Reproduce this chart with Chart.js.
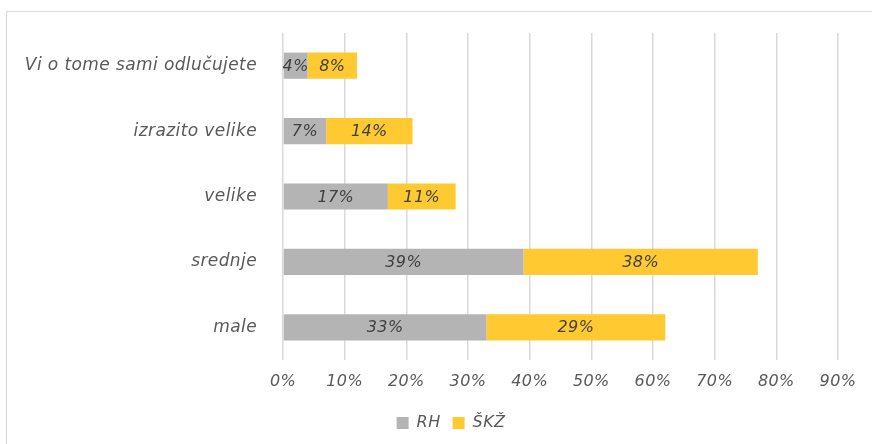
<!DOCTYPE html>
<html lang="hr">
<head>
    <meta charset="UTF-8">
    <title>Veličina odluka</title>
    <script src="https://cdn.jsdelivr.net/npm/chart.js"></script>
    <style>
        html, body {
            margin: 0;
            padding: 0;
            background: #fff;
            overflow: hidden;
        }
        .frame {
            position: absolute;
            left: 6px;
            top: 11px;
            width: 1000px;
            height: 600px;
            border: 1px solid #d9d9d9;
        }
        .wrap {
            position: absolute;
            left: 0;
            top: 0;
            width: 872px;
            height: 444px;
        }
    </style>
</head>
<body>
    <div class="frame"></div>
    <div class="wrap"><canvas id="chart"></canvas></div>

    <script>
        const categories = ['Vi o tome sami odlučujete', 'izrazito velike', 'velike', 'srednje', 'male'];
        const rhValues = [4, 7, 17, 39, 33];
        const skzValues = [8, 14, 11, 38, 29];
        const xTicks = [0, 10, 20, 30, 40, 50, 60, 70, 80, 90];

        const FONT = '"DejaVu Sans", sans-serif';
        const SPACING = '0.4px';
        const LEGEND_SHIFT = 31;

        // slightly wider text, legend moved a bit right of the plot centre
        const tweaks = {
            id: 'tweaks',
            afterLayout(chart) {
                chart.legend.left += LEGEND_SHIFT;
                chart.legend.right += LEGEND_SHIFT;
            },
            beforeDraw(chart) { chart.ctx.letterSpacing = SPACING; }
        };

        // percentage text in the middle of every bar segment
        const segmentLabels = {
            id: 'segmentLabels',
            afterDatasetsDraw(chart) {
                const ctx = chart.ctx;
                ctx.save();
                ctx.letterSpacing = SPACING;
                ctx.font = 'italic 16px ' + FONT;
                ctx.fillStyle = '#404040';
                ctx.textAlign = 'center';
                ctx.textBaseline = 'middle';
                chart.data.datasets.forEach((ds, i) => {
                    chart.getDatasetMeta(i).data.forEach((bar, j) => {
                        const p = bar.getProps(['x', 'y', 'base'], true);
                        ctx.fillText(ds.data[j] + '%', (p.x + p.base) / 2, p.y + 1);
                    });
                });
                ctx.restore();
            }
        };

        new Chart(document.getElementById('chart'), {
            type: 'bar',
            data: {
                labels: categories,
                datasets: [
                    { label: 'RH', data: rhValues, backgroundColor: '#b4b4b4' },
                    { label: 'ŠKŽ', data: skzValues, backgroundColor: '#ffc932' }
                ]
            },
            options: {
                indexAxis: 'y',
                responsive: true,
                maintainAspectRatio: false,
                animation: false,
                categoryPercentage: 0.4,
                barPercentage: 1,
                layout: { padding: { top: 33, right: 34, bottom: 3, left: 0 } },
                scales: {
                    x: {
                        stacked: true,
                        min: 0,
                        max: 90,
                        afterBuildTicks(scale) {
                            scale.ticks = xTicks.map(v => ({ value: v }));
                        },
                        afterFit(scale) { scale.height = 43; },
                        grid: { color: '#d9d9d9', lineWidth: 1.5, drawTicks: false },
                        border: { display: false },
                        ticks: {
                            padding: 12,
                            color: '#595959',
                            font: { family: FONT, size: 16, style: 'italic' },
                            callback: v => v + '%'
                        }
                    },
                    y: {
                        stacked: true,
                        afterFit(scale) { scale.width = 283; },
                        grid: { display: false },
                        border: { display: false },
                        ticks: {
                            padding: 18,
                            color: '#595959',
                            font: { family: FONT, size: 17, style: 'italic' }
                        }
                    }
                },
                plugins: {
                    legend: {
                        position: 'bottom',
                        labels: {
                            boxWidth: 12,
                            boxHeight: 12,
                            padding: 12,
                            color: '#595959',
                            font: { family: FONT, size: 16, style: 'italic' }
                        }
                    },
                    tooltip: { enabled: false }
                }
            },
            plugins: [tweaks, segmentLabels]
        });
    </script>
</body>
</html>
